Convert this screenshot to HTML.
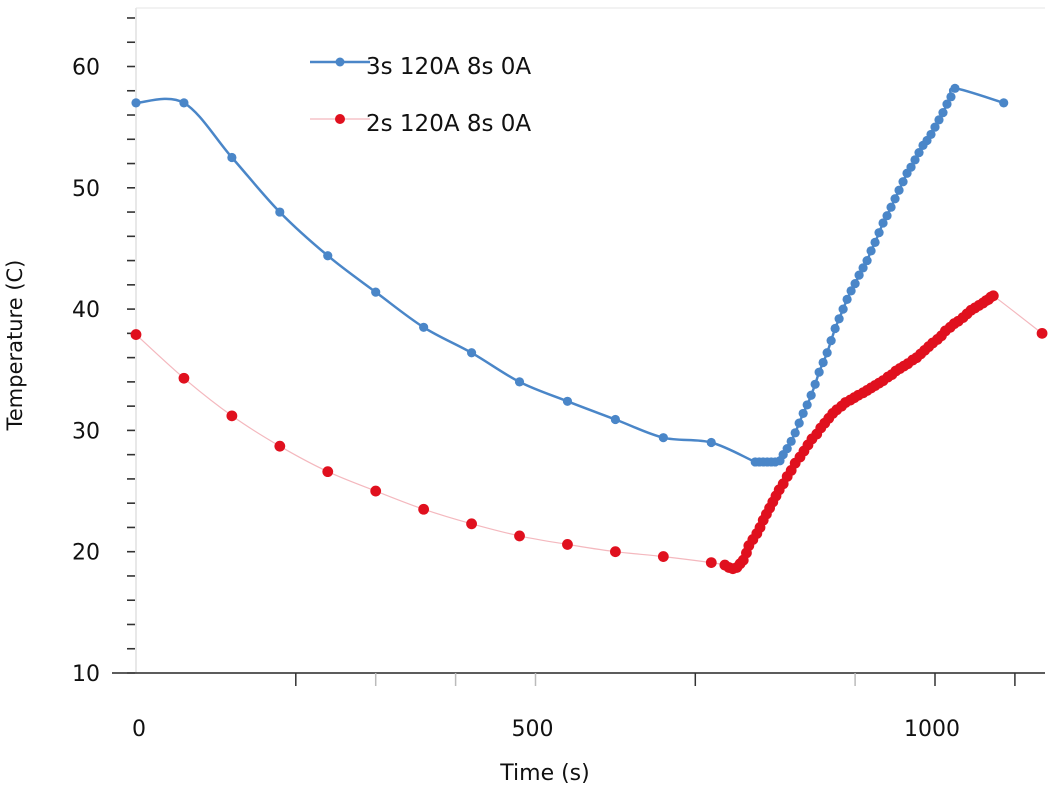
<!DOCTYPE html>
<html><head><meta charset="utf-8"><style>
html,body{margin:0;padding:0;background:#fff;}
svg{display:block;font-family:"DejaVu Sans","Liberation Sans",sans-serif;}
</style></head><body>
<svg id="chart" width="1055" height="789">
<g id="axes"></g>
<g id="series"></g>
<g>
 <line x1="310" y1="62" x2="370" y2="62" stroke="#4a86c8" stroke-width="2.5"/>
 <circle cx="340" cy="62" r="4.5" fill="#4a86c8"/>
 <text x="366" y="74" font-size="23" fill="#111">3s 120A 8s 0A</text>
 <line x1="310" y1="119" x2="370" y2="119" stroke="#f4b8be" stroke-width="1.2"/>
 <circle cx="340" cy="119" r="5" fill="#e0101e"/>
 <text x="366" y="131" font-size="23" fill="#111">2s 120A 8s 0A</text>
</g>
<text x="545" y="780" font-size="22" text-anchor="middle" fill="#111">Time (s)</text>
<text transform="translate(22,345) rotate(-90)" font-size="21" text-anchor="middle" fill="#111">Temperature (C)</text>
</svg>
<script>
const yTicks=[10,20,30,40,50,60];
const xTickLabels=[0,500,1000];
const xMinorTicks=[200,300,400,500,700,900,1000,1100];
const blueT=[0,60,120,180,240,300,360,420,480,540,600,660,720,775,780,785,790,795,800,806,810,815,820,825,830,835,840,845,850,855,860,865,870,875,880,885,890,895,900,905,910,915,920,925,930,935,940,945,950,955,960,965,970,975,980,985,990,995,1000,1005,1010,1015,1020,1025,1086];
const blueV=[57.0,57.0,52.5,48.0,44.4,41.4,38.5,36.4,34.0,32.4,30.9,29.4,29.0,27.4,27.4,27.4,27.4,27.4,27.4,27.5,28.0,28.5,29.1,29.8,30.6,31.4,32.1,32.9,33.8,34.8,35.6,36.4,37.4,38.4,39.2,40,40.8,41.5,42.1,42.8,43.4,44,44.8,45.5,46.3,47.1,47.7,48.4,49.1,49.8,50.5,51.2,51.7,52.3,52.9,53.5,53.9,54.4,55,55.6,56.2,56.9,57.5,58.2,57.0];
const redT=[0,60,120,180,240,300,360,420,480,540,600,660,720,737,742,747,752,756,760,764,767,772,777,781,785,789,793,797,801,805,810,815,820,825,831,836,841,846,852,857,862,867,872,877,883,888,894,899,904,910,915,920,925,930,935,941,946,951,956,961,966,972,977,982,987,992,997,1003,1008,1013,1019,1024,1029,1035,1040,1045,1050,1055,1060,1064,1067,1070,1073,1134];
const redV=[37.9,34.3,31.2,28.7,26.6,25.0,23.5,22.3,21.3,20.6,20.0,19.6,19.1,18.9,18.7,18.6,18.7,19.0,19.3,19.9,20.5,21.0,21.5,22.0,22.6,23.1,23.6,24.1,24.6,25.1,25.6,26.2,26.7,27.3,27.8,28.3,28.8,29.3,29.7,30.2,30.6,31.0,31.4,31.7,32.0,32.3,32.5,32.7,32.9,33.1,33.3,33.5,33.7,33.9,34.1,34.4,34.6,34.9,35.1,35.3,35.5,35.8,36.0,36.3,36.6,36.9,37.2,37.5,37.8,38.2,38.5,38.8,39.0,39.3,39.6,39.9,40.1,40.3,40.5,40.7,40.8,41.0,41.1,38.0];
const NS='http://www.w3.org/2000/svg';
function X(t){return 136+t*0.799;}
function Y(v){return 673-(v-10)*12.13;}
function mk(tag,attrs,parent){const e=document.createElementNS(NS,tag);for(const k in attrs)e.setAttribute(k,attrs[k]);parent.appendChild(e);return e;}
const axes=document.getElementById('axes');
let e;
e=mk('line',{x1:136,y1:8,x2:136,y2:673,stroke:'#d8d8d8','stroke-width':1.2},axes);


e=mk('line',{x1:136,y1:8,x2:1045,y2:8,stroke:'#e4e4e4','stroke-width':1},axes);


for(let v=10;v<=64;v+=2){
 e=mk('line',{x1:127,y1:Y(v),x2:135,y2:Y(v),stroke:'#333','stroke-width':1.6},axes);
 
 
}
yTicks.forEach(v=>{
 e=mk('text',{x:100,y:Y(v)+8,'font-size':22,'text-anchor':'end',fill:'#111'},axes);
 e.textContent=v;
 
 
});
e=mk('line',{x1:112,y1:673,x2:1045,y2:673,stroke:'#444','stroke-width':1.8},axes);


xMinorTicks.forEach(t=>{
 const dark=[200,700,1000,1100].includes(t);
 e=mk('line',{x1:X(t),y1:673,x2:X(t),y2:686,stroke:dark?'#333':'#bbb','stroke-width':1.5},axes);
 
 
});
xTickLabels.forEach(t=>{
 e=mk('text',{x:X(t)+(t===0?3:-3),y:736,'font-size':22,'text-anchor':'middle',fill:'#111'},axes);
 e.textContent=t;
 
 
});
function smoothPath(P){
 let d='M'+P[0][0].toFixed(1)+','+P[0][1].toFixed(1);
 for(let i=0;i<P.length-1;i++){
  const p0=P[i-1]||P[i],p1=P[i],p2=P[i+1],p3=P[i+2]||P[i+1];
  const c1x=p1[0]+(p2[0]-p0[0])/6,c1y=p1[1]+(p2[1]-p0[1])/6;
  const c2x=p2[0]-(p3[0]-p1[0])/6,c2y=p2[1]-(p3[1]-p1[1])/6;
  d+=' C'+c1x.toFixed(1)+','+c1y.toFixed(1)+' '+c2x.toFixed(1)+','+c2y.toFixed(1)+' '+p2[0].toFixed(1)+','+p2[1].toFixed(1);
 }
 return d;
}
const ser=document.getElementById('series');
function series(T,V,color,lineColor,lw,r,name){
 const g=mk('g',{},ser);
 
 
 const P=T.map((t,i)=>[X(t),Y(V[i])]);
 e=mk('path',{d:smoothPath(P),fill:'none',stroke:lineColor,'stroke-width':lw,'stroke-linejoin':'round'},g);
 
 
 T.forEach((t,i)=>{
  e=mk('circle',{cx:X(t),cy:Y(V[i]),r:r,fill:color},g);
  
  
 });
}
series(blueT,blueV,'#4a86c8','#4a86c8',2.5,4.6,'series-3s');
series(redT,redV,'#e0101e','#f4b8be',1.2,5.4,'series-2s');
</script>
</body></html>
